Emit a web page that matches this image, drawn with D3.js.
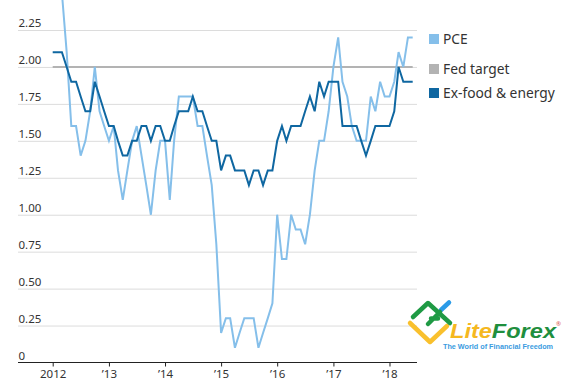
<!DOCTYPE html>
<html>
<head>
<meta charset="utf-8">
<script src="https://cdn.jsdelivr.net/npm/d3@7"></script>
<style>
  html, body { margin: 0; padding: 0; background: #fff; }
  svg { display: block; }
  text { font-family: "Noto Sans", sans-serif; fill: #333; }
  .brand { font-family: "Liberation Sans", sans-serif; }
</style>
</head>
<body>
<script>
// Monthly readings, January 2012 to June 2018
var startDate = new Date(2012, 0, 1)

var pce = [
  2.9, 2.7, 2.5, 2.1, 1.6, 1.6, 1.4, 1.5, 1.7, 2.0, 1.7, 1.6,
  1.5, 1.6, 1.3, 1.1, 1.3, 1.5, 1.6, 1.4, 1.2, 1.0, 1.3, 1.5,
  1.5, 1.1, 1.5, 1.8, 1.8, 1.8, 1.8, 1.6, 1.6, 1.4, 1.2, 0.8,
  0.2, 0.3, 0.3, 0.1, 0.2, 0.3, 0.3, 0.3, 0.1, 0.2, 0.3, 0.4,
  1.0, 0.7, 0.7, 1.0, 0.9, 0.9, 0.8, 1.0, 1.3, 1.5, 1.5, 1.7,
  2.0, 2.2, 1.9, 1.8, 1.6, 1.5, 1.5, 1.5, 1.8, 1.7, 1.9, 1.8,
  1.8, 1.9, 2.1, 2.0, 2.2, 2.2
]

var exFoodEnergy = [
  2.1, 2.1, 2.1, 2.0, 1.9, 1.9, 1.8, 1.7, 1.7, 1.9, 1.8, 1.7,
  1.6, 1.6, 1.5, 1.4, 1.4, 1.5, 1.5, 1.6, 1.6, 1.5, 1.6, 1.6,
  1.5, 1.5, 1.6, 1.7, 1.7, 1.7, 1.8, 1.7, 1.7, 1.6, 1.5, 1.5,
  1.3, 1.4, 1.4, 1.3, 1.3, 1.3, 1.2, 1.3, 1.3, 1.2, 1.3, 1.3,
  1.5, 1.6, 1.5, 1.6, 1.6, 1.6, 1.7, 1.8, 1.7, 1.9, 1.8, 1.9,
  1.9, 1.9, 1.6, 1.6, 1.6, 1.6, 1.5, 1.4, 1.5, 1.6, 1.6, 1.6,
  1.6, 1.7, 2.0, 1.9, 1.9, 1.9
]

var fedTarget = 2.0
var yTicks = [0, 0.25, 0.5, 0.75, 1, 1.25, 1.5, 1.75, 2, 2.25]
var yearTicks = [2012, 2013, 2014, 2015, 2016, 2017, 2018]
var legendNames = ['PCE', 'Fed target', 'Ex-food & energy']

var lightBlue = '#85bfea'
var darkBlue = '#0f67a1'
var grey = '#b3b3b3'

;(function () {
  'use strict'

  var w = 569
  var h = 384

  var months = pce.map(function (d, i) {
    return new Date(startDate.getFullYear(), i, 1)
  })

  var x = d3.scaleTime()
    .domain([months[0], months[months.length - 1]])
    .range([52.7, 412.7])
  var y = d3.scaleLinear()
    .domain([0, 2.25])
    .range([362.5, 30])

  var s = d3.select('body').append('svg')
    .attr('width', w)
    .attr('height', h)

  // Grid lines with their labels sitting on top
  var grid = s.append('g')
    .call(d3.axisLeft(y).tickValues(yTicks).tickSize(0))
  grid.select('.domain').remove()
  grid.selectAll('.tick line')
    .attr('x1', 18)
    .attr('x2', 417)
    .attr('stroke', function (d) { return d === 0 ? 'none' : '#dcdcdc' })
    .attr('stroke-width', 1)
  grid.selectAll('.tick text')
    .attr('x', 18.5)
    .attr('dy', -3.5)
    .attr('text-anchor', 'start')
    .style('font-size', '11.5px')
    .text(function (d) { return d === 0 ? '0' : d3.format('.2f')(d) })

  // Bottom axis
  var bottom = s.append('g')
    .attr('transform', 'translate(0,' + y(0) + ')')
    .call(d3.axisBottom(x)
      .tickValues(yearTicks.map(function (d) { return new Date(d, 0, 1) }))
      .tickSize(4)
      .tickPadding(3)
      .tickFormat(function (d) {
        var yr = d.getFullYear()
        return yr === 2012 ? '2012' : '\u2019' + String(yr).slice(2)
      }))
  bottom.select('.domain')
    .attr('d', 'M18,0H417')
    .attr('stroke', '#222')
    .attr('stroke-width', 1.2)
  bottom.selectAll('.tick line').attr('stroke', '#222')
  bottom.selectAll('.tick text').style('font-size', '11.5px')

  var line = d3.line()
    .x(function (d, i) { return x(months[i]) })
    .y(function (d) { return y(d) })

  s.append('line')
    .attr('x1', x(months[0]))
    .attr('x2', x(months[months.length - 1]))
    .attr('y1', y(fedTarget))
    .attr('y2', y(fedTarget))
    .attr('stroke', grey)
    .attr('stroke-width', 2)

  s.append('path')
    .datum(pce)
    .attr('d', line)
    .attr('fill', 'none')
    .attr('stroke', lightBlue)
    .attr('stroke-width', 2)

  s.append('path')
    .datum(exFoodEnergy)
    .attr('d', line)
    .attr('fill', 'none')
    .attr('stroke', darkBlue)
    .attr('stroke-width', 2)

  // Legend
  var legendColors = [lightBlue, grey, darkBlue]
  var legendY = [34, 64, 88]
  var legend = s.selectAll('.legend')
    .data(legendNames)
    .enter().append('g')
      .attr('class', 'legend')
      .attr('transform', function (d, i) {
        return 'translate(429,' + legendY[i] + ')'
      })
  legend.append('rect')
    .attr('width', 10)
    .attr('height', 10)
    .attr('fill', function (d, i) { return legendColors[i] })
  legend.append('text')
    .attr('x', 14)
    .attr('y', 10)
    .style('font-size', '13.8px')
    .text(function (d) { return d })

  // LiteForex logo
  var logo = s.append('g').attr('fill', 'none')
    .attr('stroke-linecap', 'round')
    .attr('stroke-linejoin', 'round')
    .attr('stroke-width', 4.5)
  logo.append('path')
    .attr('d', 'M410,323L430,342L447,326')
    .attr('stroke', '#f9c02d')
  logo.append('path')
    .attr('d', 'M441,310L449,302.5')
    .attr('stroke', '#2b9be8')
  logo.append('path')
    .attr('d', 'M413,317L428,303L450,323M428,324L440,312M431,318.5H438')
    .attr('stroke', '#1f9a44')

  var brand = s.append('text')
    .attr('class', 'brand')
    .attr('x', 450)
    .attr('y', 338)
    .attr('textLength', 106)
    .attr('lengthAdjust', 'spacingAndGlyphs')
    .style('font-size', '20px')
    .style('font-weight', 700)
    .style('font-style', 'italic')
  brand.append('tspan')
    .style('fill', '#f5b81f')
    .text('Lite')
  brand.append('tspan')
    .style('fill', '#1f8f3e')
    .text('Forex')
  s.append('text')
    .attr('x', 556)
    .attr('y', 326)
    .style('font-size', '6px')
    .style('fill', '#d9534f')
    .text('\u00ae')
  s.append('text')
    .attr('class', 'brand')
    .attr('x', 443)
    .attr('y', 349)
    .attr('textLength', 110)
    .attr('lengthAdjust', 'spacingAndGlyphs')
    .style('font-size', '7px')
    .style('font-weight', 700)
    .style('fill', '#3a9be0')
    .text('The World of Financial Freedom')
}())
</script>
</body>
</html>
